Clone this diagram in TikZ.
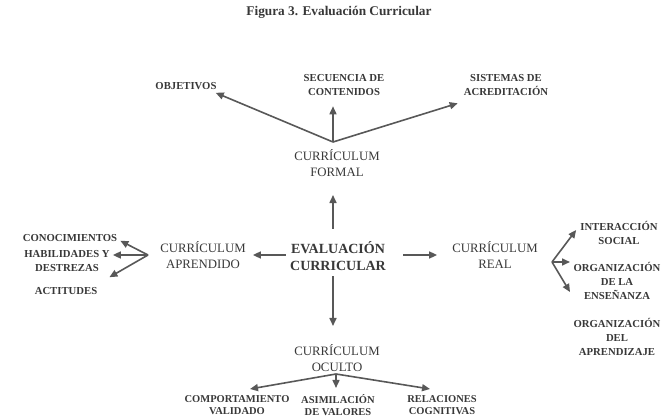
\documentclass[tikz,border=0pt]{standalone}
\usepackage{fontspec}
\setmainfont{Liberation Serif}
\usetikzlibrary{arrows.meta,calc}
\definecolor{ink}{HTML}{383838}
\definecolor{arrowgray}{HTML}{585858}
\begin{document}
\begin{tikzpicture}[x=1pt,y=-1pt,
  every node/.style={inner sep=0pt,align=center,text=ink},
  leaf/.style={font=\fontsize{10.7}{14}\selectfont\bfseries},
  lowleaf/.style={font=\fontsize{10.5}{12.5}\selectfont\bfseries},
  branch/.style={font=\fontsize{12.8}{16.5}\selectfont},
  hub/.style={font=\fontsize{14}{17.5}\selectfont\bfseries},
  arr/.style={draw=arrowgray,line width=1.6pt,-{Triangle[length=8pt,width=7pt]}}]
\useasboundingbox (0,0) rectangle (670,420);

% title
\node[font=\fontsize{13.3}{15}\selectfont\bfseries] (title) at (339,12) {Figura 3. Evaluación Curricular};

% centre
\node[hub] (eval) at (338,256) {EVALUACIÓN\\CURRICULAR};

% the four curricula
\node[branch] (formal)   at (337,163) {CURRÍCULUM\\FORMAL};
\node[branch] (aprend)   at (203,255) {CURRÍCULUM\\APRENDIDO};
\node[branch] (real)     at (495,255) {CURRÍCULUM\\REAL};
\node[branch] (oculto)   at (337,358) {CURRÍCULUM\\OCULTO};

% formal curriculum
\node[leaf] (obj) at (186,86)   {OBJETIVOS};
\node[leaf] (sec) at (344,85.5) {SECUENCIA DE\\CONTENIDOS};
\node[leaf] (sis) at (506,85.5) {SISTEMAS DE\\ACREDITACIÓN};

% learned curriculum
\node[leaf] (cono)  at (70,238)   {CONOCIMIENTOS};
\node[leaf] (habil) at (67,261.5) {HABILIDADES Y\\DESTREZAS};
\node[leaf] (acti)  at (66,291)   {ACTITUDES};

% real curriculum
\node[leaf] (inter) at (619,233) {INTERACCIÓN\\SOCIAL};
\node[leaf] (orgen) at (617,281) {ORGANIZACIÓN\\DE LA\\ENSEÑANZA};
\node[leaf] (orgap) at (617,337) {ORGANIZACIÓN\\DEL\\APRENDIZAJE};

% hidden curriculum
\node[lowleaf] (comp) at (237,405) {COMPORTAMIENTO\\VALIDADO};
\node[lowleaf] (asim) at (338,405) {ASIMILACIÓN\\DE VALORES};
\node[lowleaf] (rela) at (442,405) {RELACIONES\\COGNITIVAS};

% branching points
\coordinate (fb) at (333,142);
\coordinate (lb) at (148,255);
\coordinate (rb) at (552,262);
\coordinate (ob) at (336,374);

% from the centre
\draw[arr] ($(eval.north)+(-5,-12)$) -- ($(formal.south)+(-4,18)$);
\draw[arr] ($(eval.south)+(-5,5)$) -- ($(oculto.north)+(-4,-18)$);
\draw[arr] ($(eval.west)+(-4,-1)$) -- ($(aprend.east)+(7,0)$);
\draw[arr] ($(eval.east)+(17,-1)$) -- ($(real.west)+(-15,0)$);

% formal curriculum branches
\draw[arr] (fb) -- ($(obj.south east)+(-1,3)$);
\draw[arr] (fb) -- ($(fb |- sec.south)+(0,10)$);
\draw[arr] (fb) -- ($(sis.south west)+(-6,7)$);

% learned curriculum branches
\draw[arr] (lb) -- ($(cono.south east)+(3,-1)$);
\draw[arr] (lb) -- ($(habil.east |- lb)+(3,0)$);
\draw[arr] (lb) -- ($(acti.north east)+(12,-10)$);

% real curriculum branches
\draw[arr] (rb) -- ($(inter.west)+(-4,-3)$);
\draw[arr] (rb) -- ($(rb)+(18,0)$);
\draw[arr] (rb) -- ($(rb)+(18,30)$);

% hidden curriculum branches
\draw[arr] (ob) -- ($(comp.north)+(13,-6)$);
\draw[arr] (ob) -- ($(ob |- asim.north)+(0,-6)$);
\draw[arr] (ob) -- ($(rela.north)+(-12,-6)$);
\end{tikzpicture}
\end{document}
